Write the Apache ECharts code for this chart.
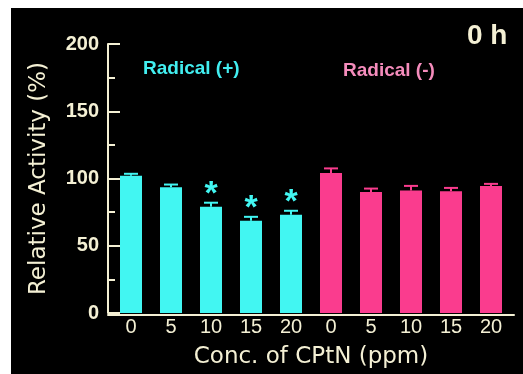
<!DOCTYPE html>
<html><head><meta charset="utf-8">
<script src="https://cdn.jsdelivr.net/npm/echarts@6/dist/echarts.min.js"></script>
<style>html,body{margin:0;padding:0;background:#fff;}#c{position:absolute;left:11px;top:8px;width:512px;height:366px;background:#000;}</style>
</head><body><div id="c"></div>
<script>
// ---- data ----
const concLabels = ['0', '5', '10', '15', '20', '0', '5', '10', '15', '20'];
const radicalPlus = [102, 93.5, 79, 68.5, 73];
const radicalPlusErr = [1.5, 2, 3, 3, 3];
const radicalMinus = [104, 90, 91, 90.5, 94.5];
const radicalMinusErr = [3.5, 2.5, 3.5, 2.5, 1.5];
const significant = [false, false, true, true, true, false, false, false, false, false];
const yMin = 0, yMax = 200, yStep = 50;

// ---- styles ----
const cream = '#f4f0d4';
const cyan = '#42f6f2';
const pink = '#fa3c8e';
const cyanText = '#42eef0';
const pinkText = '#f58cbc';

const values = radicalPlus.concat(radicalMinus);
const errs = radicalPlusErr.concat(radicalMinusErr);
const colors = values.map((v, i) => i < radicalPlus.length ? cyan : pink);

const barData = values.map((v, i) => ({ value: v, itemStyle: { color: colors[i] } }));
const errData = values.map((v, i) => [i, v, errs[i]]);
const starData = values.map((v, i) => significant[i] ? [i, v + errs[i]] : null).filter(d => d);

const chart = echarts.init(document.getElementById('c'));
chart.setOption({
  backgroundColor: '#000',
  animation: false,
  grid: [
    { left: 100, top: 36, width: 400, height: 271 },
    { left: 97, top: 36, width: 406, height: 271 }
  ],
  xAxis: [
    {
      type: 'category', gridIndex: 0, data: concLabels,
      axisLine: { show: false }, axisTick: { show: false },
      axisLabel: { color: cream, fontSize: 20, fontFamily: 'Liberation Sans', margin: 4 },
      name: 'Conc. of CPtN (ppm)', nameLocation: 'middle', nameGap: 33,
      nameTextStyle: { color: cream, fontSize: 23, fontFamily: 'DejaVu Sans' }
    },
    {
      type: 'value', gridIndex: 1, min: 0, max: 1,
      axisLine: { show: true, lineStyle: { color: cream, width: 2 } },
      axisTick: { show: false }, axisLabel: { show: false }, splitLine: { show: false }
    }
  ],
  yAxis: [
    {
      type: 'value', gridIndex: 0, min: yMin, max: yMax, interval: yStep, offset: 3,
      axisLine: { show: true, lineStyle: { color: cream, width: 2 } },
      axisTick: { show: true, inside: true, length: 12, lineStyle: { color: cream, width: 2 } },
      minorTick: { show: true, splitNumber: 2, length: 7, lineStyle: { color: cream, width: 2 } },
      splitLine: { show: false },
      axisLabel: { color: cream, fontSize: 20, fontWeight: 'bold', fontFamily: 'Liberation Sans', margin: 9 },
      name: 'Relative Activity (%)', nameLocation: 'middle', nameRotate: 90, nameGap: 57,
      nameTextStyle: { color: cream, fontSize: 23, fontFamily: 'DejaVu Sans' }
    },
    { type: 'value', gridIndex: 1, show: false, min: 0, max: 1 }
  ],
  graphic: [
    { type: 'text', left: 132, top: 51, style: { text: 'Radical (+)', fill: cyanText, font: 'bold 19px "Liberation Sans"' } },
    { type: 'text', left: 332, top: 53, style: { text: 'Radical (-)', fill: pinkText, font: 'bold 19px "Liberation Sans"' } },
    { type: 'text', left: 456, top: 14, style: { text: '0 h', fill: cream, font: 'bold 28px "Liberation Sans"' } }
  ],
  series: [
    {
      type: 'bar', xAxisIndex: 0, yAxisIndex: 0, barWidth: 22, data: barData
    },
    {
      type: 'custom', xAxisIndex: 0, yAxisIndex: 0, data: errData, z: 3,
      renderItem: function (params, api) {
        const i = api.value(0);
        const base = api.coord([i, api.value(1)]);
        const top = api.coord([i, api.value(1) + api.value(2)]);
        const c = colors[params.dataIndex];
        return {
          type: 'group', children: [
            { type: 'line', shape: { x1: base[0], y1: base[1], x2: top[0], y2: top[1] }, style: { stroke: c, lineWidth: 2 } },
            { type: 'line', shape: { x1: top[0] - 7, y1: top[1], x2: top[0] + 7, y2: top[1] }, style: { stroke: c, lineWidth: 2 } }
          ]
        };
      }
    },
    {
      type: 'custom', xAxisIndex: 0, yAxisIndex: 0, data: starData, z: 4,
      renderItem: function (params, api) {
        const p = api.coord([api.value(0), api.value(1)]);
        return {
          type: 'text',
          style: { x: p[0], y: p[1] - 8, text: '*', fill: cyan, font: 'bold 34px "Liberation Sans"', textAlign: 'center', textVerticalAlign: 'middle' }
        };
      }
    }
  ]
});
</script></body></html>
